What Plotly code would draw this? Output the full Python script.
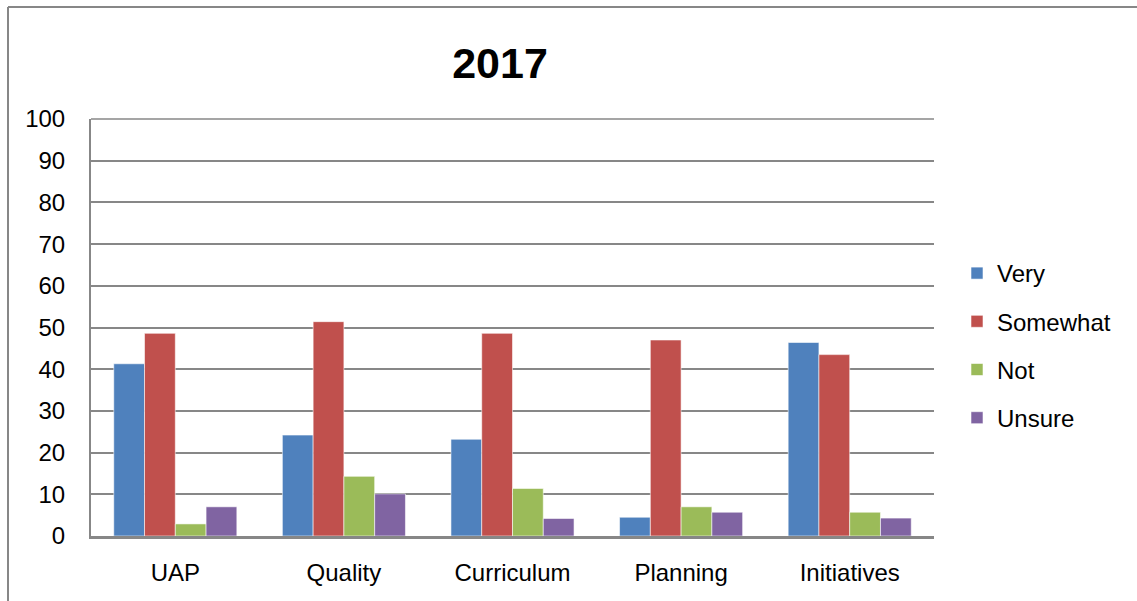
import plotly.graph_objects as go

categories = ["UAP", "Quality", "Curriculum", "Planning", "Initiatives"]
very = [41.3, 24.2, 23.2, 4.5, 46.4]
somewhat = [48.6, 51.4, 48.6, 47.0, 43.5]
not_ = [2.9, 14.3, 11.4, 7.0, 5.7]
unsure = [7.0, 10.1, 4.2, 5.7, 4.3]
series_names = ["Very", "Somewhat", "Not", "Unsure"]
colors = ["#4F81BD", "#C0504D", "#9BBB59", "#8064A2"]
y_ticks = list(range(0, 101, 10))

W, H = 1137, 601
L, R, T, B = 91, 203, 119, 65
pw, ph = W - L - R, H - T - B

fig = go.Figure()
for name, vals, col in zip(series_names, [very, somewhat, not_, unsure], colors):
    fig.add_trace(go.Bar(
        x=categories, y=vals, name=name, legendgroup=name,
        marker=dict(color=col, line=dict(color="rgba(255,255,255,0.7)", width=0.8)),
    ))

font = "Liberation Sans, Arial, sans-serif"
fig.update_layout(
    width=W, height=H,
    margin=dict(l=L, r=R, t=T, b=B, autoexpand=False),
    paper_bgcolor="white", plot_bgcolor="white",
    font=dict(family=font, size=24, color="black"),
    barmode="group", bargap=0.27, bargroupgap=0,
    title=dict(text="<b>2017</b>", font=dict(size=43, family=font, color="black"),
               x=500 / W, xanchor="center", y=1 - 63 / H, yanchor="middle"),
    legend=dict(x=(957 - L) / pw, xanchor="left", y=(536 - 345.5) / ph, yanchor="middle",
                font=dict(size=24), tracegroupgap=14, bgcolor="rgba(0,0,0,0)"),
    showlegend=True,
)
fig.update_yaxes(range=[0, 100], tickvals=y_ticks, showgrid=True, gridcolor="#878787",
                 gridwidth=1.5, showline=True, linecolor="#878787", linewidth=2,
                 zeroline=False, ticks="", ticklabelstandoff=19)
fig.update_xaxes(showline=True, linecolor="#878787", linewidth=2.5, ticks="",
                 showgrid=False, ticklabelstandoff=13)

# top line of plot area (gridline at 100)
fig.add_shape(type="line", xref="paper", yref="paper", x0=0, x1=1, y0=1, y1=1,
              line=dict(color="#878787", width=1.5))

# outer chart border (top and left visible)
bx = (8 - L) / pw
by = (536 - 7) / ph
fig.add_shape(type="line", xref="paper", yref="paper", x0=bx, x1=1.5, y0=by, y1=by,
              line=dict(color="#878787", width=2))
fig.add_shape(type="line", xref="paper", yref="paper", x0=bx, x1=bx, y0=by, y1=-0.5,
              line=dict(color="#878787", width=2))

fig.write_html("out.html", config={"displayModeBar": False},
               post_script="document.body.style.margin='0';")
